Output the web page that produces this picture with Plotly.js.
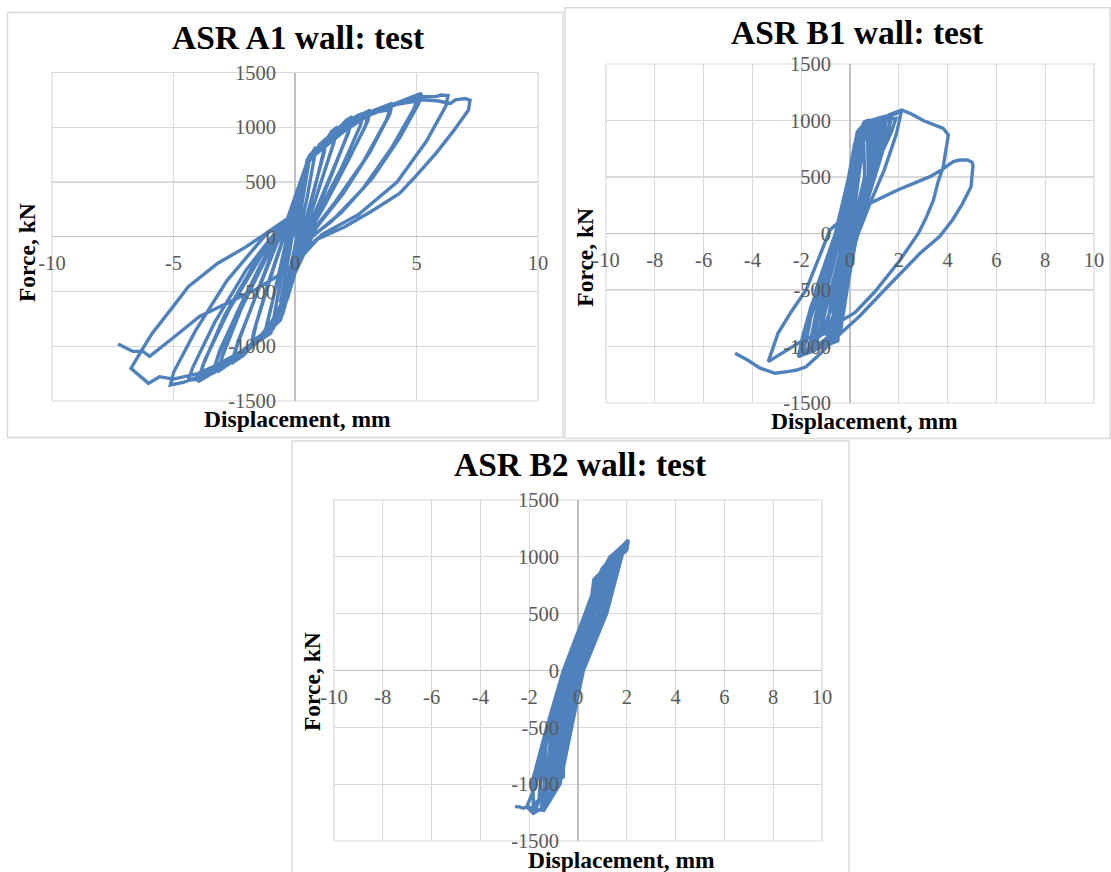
<!DOCTYPE html>
<html>
<head>
<meta charset="utf-8">
<script src="https://cdn.plot.ly/plotly-3.0.1.min.js"></script>
<style>html,body{margin:0;padding:0;background:#fff;}#chart{width:1111px;height:872px;}</style>
</head>
<body>
<div id="chart"></div>
<script>
// ---------- DATA ----------
const panelTitles = ['ASR A1 wall: test', 'ASR B1 wall: test', 'ASR B2 wall: test'];
const xAxisTitle = 'Displacement, mm';
const yAxisTitle = 'Force, kN';

const xTicksA1 = [-10, -5, 0, 5, 10];
const xTickTextA1 = ['-10', '-5', '0', '5', '10'];
const xTicksB = [-10, -8, -6, -4, -2, 0, 2, 4, 6, 8, 10];
const xTickTextB = ['-10', '-8', '-6', '-4', '-2', '0', '2', '4', '6', '8', '10'];
const yTicks = [-1500, -1000, -500, 0, 500, 1000, 1500];
const yTickText = ['-1500', '-1000', '-500', '0', '500', '1000', '1500'];

// [displacement mm, force kN]
const a1Curve = [
  [0,0],
  [0.2,300],[0.4,560],[0.55,700],[0.5,620],[0.3,300],[0.1,20],[-0.2,-300],[-0.45,-540],[-0.6,-600],[-0.5,-480],[-0.3,-200],[-0.05,80],[0.15,220],
  [0.4,580],[0.5,690],[0.7,760],[0.85,820],[0.8,730],[0.5,360],[0.2,50],[-0.1,-260],[-0.5,-620],[-0.75,-720],[-0.9,-780],[-0.8,-650],[-0.5,-300],[-0.15,50],[0.1,210],
  [0.45,640],[0.6,740],[0.8,790],[0.82,760],[1.0,840],[1.3,900],[1.2,800],[0.8,430],[0.35,60],[0,-250],[-0.45,-640],[-0.8,-760],[-1.0,-820],[-1.24,-883],[-1.1,-760],[-0.7,-360],[-0.3,20],[0.1,200],
  [0.45,650],[0.9,780],[1.25,860],[1.2,770],[0.7,380],[0.3,40],[-0.1,-320],[-0.5,-680],[-0.9,-780],[-1.2,-840],[-1.05,-700],[-0.5,-200],[0,150],
  [0.4,600],[0.55,720],[0.9,810],[1.3,880],[1.5,960],[1.75,1005],[1.65,900],[1.1,520],[0.5,100],[0,-300],[-0.5,-700],[-1.0,-820],[-1.4,-920],[-1.8,-1000],[-1.7,-870],[-1.1,-420],[-0.5,-20],[0.05,190],
  [0.5,700],[1.0,830],[1.4,920],[1.7,960],[1.6,860],[0.9,380],[0.4,30],[-0.1,-350],[-0.6,-740],[-1.2,-870],[-1.75,-950],[-1.6,-800],[-0.9,-300],[-0.3,100],[0.1,220],
  [0.5,690],[0.9,800],[1.4,900],[1.8,990],[2.1,1060],[2.35,1096],[2.25,990],[1.5,560],[0.7,130],[0.1,-250],[-0.4,-620],[-0.9,-800],[-1.6,-950],[-2.1,-1080],[-2.6,-1157],[-2.45,-1030],[-1.7,-600],[-0.9,-120],[-0.2,150],[0.15,230],
  [0.55,720],[1.2,860],[1.8,970],[2.3,1050],[2.2,950],[1.4,520],[0.6,100],[0,-320],[-0.6,-760],[-1.4,-930],[-2.0,-1040],[-2.5,-1100],[-2.35,-960],[-1.5,-480],[-0.6,20],[0.1,210],
  [0.5,700],[1.0,830],[1.7,960],[2.3,1070],[2.6,1110],[2.8,1126],[2.7,1020],[1.9,620],[0.9,200],[0.3,-60],[-0.3,-560],[-1.0,-850],[-1.8,-1010],[-2.5,-1130],[-3.19,-1233],[-3.0,-1100],[-2.2,-650],[-1.2,-200],[-0.2,180],
  [0.55,720],[1.2,850],[2.0,1010],[2.6,1100],[2.9,1130],[3.1,1157],[3.0,1060],[2.2,700],[1.2,280],[0.4,-30],[-0.2,-480],[-0.9,-840],[-1.8,-1000],[-2.8,-1170],[-3.4,-1250],[-3.2,-1120],[-2.4,-700],[-1.4,-250],[-0.3,170],
  [0.5,680],[1.4,870],[2.3,1040],[3.0,1110],[2.9,1010],[2.0,620],[1.0,220],[0.2,-80],[-0.4,-600],[-1.3,-900],[-2.3,-1060],[-3.3,-1180],[-3.1,-1040],[-2.1,-560],[-1.0,-100],[0,200],
  [0.6,730],[1.5,900],[2.4,1060],[3.1,1140],[3.6,1180],[4.0,1218],[3.9,1120],[3.1,780],[2.0,400],[0.9,90],[0.2,-150],[-0.5,-650],[-1.4,-930],[-2.4,-1100],[-3.2,-1220],[-4.0,-1324],[-3.8,-1180],[-2.9,-720],[-1.7,-260],[-0.4,140],[0.15,220],
  [0.55,700],[1.6,900],[2.6,1070],[3.4,1140],[3.9,1160],[3.75,1060],[2.8,680],[1.6,300],[0.6,20],[-0.2,-420],[-1.1,-880],[-2.2,-1060],[-3.2,-1190],[-3.9,-1260],[-3.7,-1120],[-2.7,-660],[-1.4,-180],[-0.1,200],
  [0.6,720],[1.7,930],[2.8,1100],[3.6,1170],[4.3,1230],[4.8,1270],[5.2,1309],[5.1,1220],[4.3,900],[3.2,540],[1.9,220],[0.7,0],[-0.1,-380],[-1.0,-880],[-2.0,-1030],[-3.0,-1200],[-3.9,-1300],[-4.39,-1309],[-4.2,-1190],[-3.3,-780],[-2.0,-300],[-0.6,100],[0.1,210],
  [0.6,710],[1.9,950],[3.0,1120],[4.0,1210],[4.7,1250],[5.05,1270],[4.9,1170],[4.0,820],[2.8,440],[1.5,140],[0.5,-30],[-0.3,-500],[-1.3,-920],[-2.5,-1100],[-3.6,-1250],[-4.6,-1330],[-5.13,-1354],[-5.0,-1240],[-4.1,-860],[-2.8,-400],[-1.2,20],[0,200],
  [0.55,700],[2.0,960],[3.3,1150],[4.3,1230],[5.2,1280],[5.8,1280],[6.0,1294],[6.3,1290],[6.2,1190],[5.4,870],[4.2,500],[2.6,200],[1.1,20],[0.2,-200],[-0.5,-640],[-1.6,-960],[-2.8,-1130],[-4.0,-1250],[-5.0,-1300],[-5.58,-1278],[-6.03,-1339],[-6.75,-1202],[-6.26,-1020],[-5.88,-883],[-5.13,-670],[-4.39,-457],[-3.19,-244],[-2.0,-90],[-1.09,46],[0,214],
  [0.3,320],[0.6,720],[1.8,940],[3.0,1110],[4.2,1210],[5.3,1250],[5.9,1240],[6.4,1218],[6.6,1250],[7.0,1262],[7.2,1248],[7.14,1157],[6.5,960],[5.8,761],[5.0,560],[4.45,426],[4.3,396],[3.2,240],[2.05,91],[0.85,-30],[-0.3,-300],[-1.6,-480],[-2.9,-620],[-3.93,-728],[-5.0,-920],[-5.98,-1093],[-6.26,-1047],[-6.67,-1047],[-7.28,-980]
];

const b1Curve = [
  [0,0],
  [0.1,250],[0.25,450],[0.35,520],[0.3,400],[0.05,50],[-0.25,-300],[-0.45,-480],[-0.4,-380],[-0.2,-100],[0,150],
  [0.15,450],[0.35,700],[0.5,780],[0.45,650],[0.2,250],[-0.1,-200],[-0.5,-600],[-0.8,-700],[-0.7,-580],[-0.35,-200],[-0.1,150],
  [0.3,500],[0.5,850],[0.6,975],[0.55,900],[0.6,500],[0.05,0],[-0.5,-500],[-1.0,-800],[-1.2,-870],
  [-1.05,-720],[-0.8,-500],[-0.2,0],[0.2,500],[0.5,870],[0.7,950],[0.72,900],[0.75,500],[0.0,0],[-0.4,-500],[-0.8,-860],[-1.0,-900],
  [-0.9,-750],[-0.7,-500],[-0.25,0],[0.1,500],[0.4,850],[0.75,900],[0.85,940],[0.82,860],[0.85,500],[0.1,0],[-0.35,-500],[-0.9,-860],[-1.6,-960],
  [-1.45,-830],[-1.1,-500],[-0.4,0],[0.05,500],[0.35,860],[0.8,950],[1.0,970],[0.95,900],[0.9,500],[0.15,0],[-0.3,-500],[-0.8,-900],[-1.4,-1000],
  [-1.25,-860],[-0.95,-500],[-0.35,0],[0.0,400],[0.1,550],[0.5,900],[1.0,960],[1.23,990],[1.15,900],[0.95,500],[0.2,0],[-0.25,-500],[-0.7,-900],[-1.3,-980],[-2.0,-1050],
  [-1.85,-900],[-1.3,-500],[-0.45,0],[-0.05,450],[0.25,800],[0.6,960],[0.9,980],[1.1,1000],[1.05,930],[0.92,600],[0.6,400],[0.1,0],[-0.3,-500],[-0.6,-940],[-0.5,-850],[-0.55,-940],[-1.0,-990],[-1.7,-1020],
  [-1.55,-880],[-1.2,-500],[-0.5,0],[-0.1,400],[0.2,700],[0.55,975],[0.9,990],[1.4,1020],[1.3,920],[1.0,550],[0.41,149],[0.07,-117],[-0.27,-559],[-0.68,-942],[-1.5,-1040],[-2.12,-1090],
  [-1.9,-930],[-1.64,-706],[-1.2,-470],[-0.82,-264],[-0.27,149],[-0.14,385],[0.14,680],[0.55,975],[1.2,1000],[1.64,1004],[1.55,920],[1.23,680],[0.9,450],[0.3,0],[-0.15,-500],[-0.5,-900],[-1.2,-1000],[-1.9,-1040],
  [-1.7,-850],[-1.4,-500],[-0.6,0],[-0.05,500],[0.3,900],[0.7,1000],[1.1,1010],[1.5,1040],[1.45,970],[1.1,600],[0.6,300],[0.15,0],[-0.2,-500],[-0.45,-800],[-0.5,-950],[-1.3,-1020],[-2.05,-1070],
  [-1.85,-880],[-1.5,-600],[-1.0,-300],[-0.4,100],[-0.1,450],[0.2,800],[0.6,990],[1.3,1010],[1.88,1018],[1.7,900],[1.23,680],[0.7,300],[0.25,0],[-0.1,-450],[-0.4,-850],[-0.9,-960],[-1.5,-990],
  [-1.35,-800],[-1.0,-450],[-0.35,50],[0.05,500],[0.35,900],[0.8,1000],[1.3,1020],[1.7,1030],[1.6,930],[1.3,700],[0.8,350],[0.3,0],[-0.05,-400],[-0.4,-880],[-1.2,-1000],[-2.1,-1080],
  [-1.95,-920],[-1.6,-650],[-1.1,-350],[-0.5,50],[-0.1,450],[0.3,850],[0.7,990],[1.3,1030],[1.9,1060],[2.12,1093],[1.9,880],[1.4,560],[0.82,267],[0.3,-20],[-0.2,-450],[-0.6,-900],[-1.3,-980],[-2.0,-1060],
  [-1.8,-880],[-1.2,-450],[-0.5,50],[0,450],[0.5,800],[1.0,960],[1.6,1050],[2.12,1093],
  [2.5,1060],[3.0,1000],[3.5,960],[3.82,931],[4.03,872],[3.9,700],[3.82,591],[3.6,450],[3.42,296],[3.1,130],[2.8,0],[2.0,-250],[1.0,-520],[0.2,-700],[-0.6,-800],[-1.2,-880],[-1.91,-942],[-2.6,-1030],[-3.35,-1134],
  [-2.95,-883],[-2.4,-690],[-1.8,-500],[-1.3,-230],[-0.82,31],[-0.37,119],[0.2,200],[0.82,267],[2.0,390],[3.28,503],[3.8,570],[4.23,636],[4.5,650],[4.8,650],[5.0,630],[5.04,600],[4.96,414],[4.6,260],[4.2,120],[3.67,-28],[2.87,-175],[1.5,-480],[0.4,-730],[-0.68,-942],[-1.2,-1060],[-1.8,-1179],[-2.18,-1208],[-2.5,-1220],[-3.07,-1237],[-3.7,-1190],[-4.2,-1120],[-4.71,-1060]
];

const b2Curve = [
  [0,0],
  [0.15,200],[0.3,380],[0.4,450],[0.3,300],[0.05,0],[-0.2,-200],[-0.4,-350],
  [-0.3,-200],[-0.1,150],[0.4,500],[0.6,620],[0.5,450],[0.05,0],[-0.35,-400],[-0.6,-550],
  [-0.5,-350],[-0.3,0],[0.4,500],[0.8,750],[0.75,650],[0.6,450],[0.1,0],[-0.4,-500],[-0.85,-700],
  [-0.75,-500],[-0.2,0],[0.55,500],[0.95,820],[0.9,720],[0.8,500],[0.0,0],[-0.5,-500],[-1.0,-850],
  [-0.9,-500],[-0.4,0],[0.4,500],[0.8,750],[1.1,880],[1.05,800],[0.95,500],[0.14,0],[-0.36,-500],[-0.9,-900],[-1.2,-950],
  [-1.08,-500],[-0.44,0],[0.47,500],[0.65,800],[1.0,880],[1.2,920],[1.15,850],[0.99,500],[0.06,0],[-0.46,-500],[-0.8,-900],[-0.9,-980],
  [-0.77,-500],[-0.19,0],[0.6,500],[1.0,800],[1.35,980],[1.3,900],[1.17,500],[0.22,0],[-0.26,-500],[-0.6,-850],[-0.6,-934],[-1.0,-1000],[-1.4,-1050],
  [-1.28,-500],[-0.6,0],[0.29,500],[0.6,650],[0.6,720],[1.0,900],[1.45,1000],[1.4,900],[0.91,500],[-0.03,0],[-0.57,-500],[-0.9,-900],[-1.1,-1080],
  [-0.97,-500],[-0.35,0],[0.55,500],[1.1,850],[1.55,1020],[1.5,940],[0.82,500],[-0.11,0],[-0.67,-500],[-1.1,-950],[-1.6,-1130],
  [-1.5,-900],[-1.18,-500],[-0.52,0],[0.38,500],[0.9,800],[1.36,1000],[1.65,1050],[1.6,980],[1.08,500],[0.14,0],[-0.36,-500],[-0.86,-1000],[-1.3,-1150],
  [-0.87,-500],[-0.27,0],[0.64,500],[1.2,850],[1.5,1000],[1.75,1070],[1.69,1000],[0.99,500],[0.06,0],[-0.46,-500],[-0.97,-1000],[-1.8,-1180],
  [-1.9,-1000],[-1.28,-500],[-0.6,0],[0.29,500],[0.8,800],[1.31,1000],[1.85,1090],[1.77,1000],[1.12,500],[0.18,0],[-0.31,-500],[-0.8,-1000],[-1.5,-1200],
  [-1.3,-1000],[-1.08,-500],[-0.44,0],[0.47,500],[1.0,800],[1.41,1000],[1.95,1110],[1.85,1040],[1.4,750],[0.86,500],[-0.07,0],[-0.62,-500],[-1.0,-900],[-1.83,-1256],
  [-1.84,-1000],[-1.23,-500],[-0.56,0],[0.33,500],[0.6,650],[1.33,1000],[2.0,1130],[1.79,1000],[1.17,500],[0.22,0],[-0.26,-500],[-0.74,-1000],[-1.4,-1230],[-2.1,-1200],
  [-1.72,-1000],[-1.13,-500],[-0.48,0],[0.42,500],[1.0,850],[1.38,1000],[2.06,1148],[2.0,1060],[1.72,1000],[1.03,500],[0.1,0],[-0.41,-500],[-0.92,-1000],[-1.4,-1200],[-1.83,-1256],[-2.1,-1200],[-2.24,-1212],[-2.4,-1200],[-2.58,-1198]
];

// ---------- LAYOUT ----------
const W = 1111, H = 872;
const fx = v => v / W;
const fy = v => 1 - v / H;

const SERIF = '"Liberation Serif", "Times New Roman", serif';
const LINE_COLOR = '#4f81bd';
const GRID = '#d9d9d9';
const AXIS = '#bfbfbf';
const TICK_FONT = {family: SERIF, size: 20.5, color: '#595959'};

const panels = [
  {curve: a1Curve, xt: xTicksA1, xtt: xTickTextA1, plot: [52, 538, 72.5, 401], box: [7.5, 563, 12.5, 437.5],
   title: [298, 37], xtitle: [297.3, 419], ytitle: [27, 253]},
  {curve: b1Curve, xt: xTicksB, xtt: xTickTextB, plot: [606, 1094, 64, 403], box: [565, 1110, 7.7, 438.5],
   title: [857.6, 33], xtitle: [864.8, 421.5], ytitle: [585, 257.7]},
  {curve: b2Curve, xt: xTicksB, xtt: xTickTextB, plot: [334, 822, 500, 841], box: [292, 849, 441, 880],
   title: [580.6, 464.5], xtitle: [621.5, 859.5], ytitle: [312, 682]}
];

const data = [];
const layout = {
  width: W, height: H,
  margin: {l: 0, r: 0, t: 0, b: 0, pad: 0},
  paper_bgcolor: '#ffffff',
  plot_bgcolor: 'rgba(0,0,0,0)',
  showlegend: false,
  shapes: [],
  annotations: []
};

panels.forEach((p, i) => {
  const sfx = i === 0 ? '' : String(i + 1);
  const xdom = [fx(p.plot[0]), fx(p.plot[1])];
  const ydom = [fy(p.plot[3]), fy(p.plot[2])];
  data.push({
    type: 'scatter', mode: 'lines',
    x: p.curve.map(q => q[0]), y: p.curve.map(q => q[1]),
    xaxis: 'x' + sfx, yaxis: 'y' + sfx,
    line: {color: LINE_COLOR, width: 3.4, shape: 'linear'},
    hoverinfo: 'skip'
  });
  layout['xaxis' + sfx] = {
    domain: xdom, range: [-10, 10], anchor: 'free', position: (ydom[0] + ydom[1]) / 2,
    tickmode: 'array', tickvals: p.xt, ticktext: p.xtt, tickfont: TICK_FONT,
    showgrid: true, gridcolor: GRID, gridwidth: 1.2,
    zeroline: true, zerolinecolor: AXIS, zerolinewidth: 1.4,
    showline: false, ticks: '', ticklabelstandoff: 12, fixedrange: true
  };
  layout['yaxis' + sfx] = {
    domain: ydom, range: [-1500, 1500], anchor: 'free', position: (xdom[0] + xdom[1]) / 2,
    tickmode: 'array', tickvals: yTicks, ticktext: yTickText, tickfont: TICK_FONT,
    showgrid: true, gridcolor: GRID, gridwidth: 1.2,
    zeroline: true, zerolinecolor: AXIS, zerolinewidth: 1.4,
    showline: false, ticks: '', ticklabelstandoff: 19, fixedrange: true
  };
  layout.shapes.push({type: 'rect', xref: 'x' + sfx + ' domain', yref: 'y' + sfx + ' domain',
    x0: 0, x1: 1, y0: 0, y1: 1, line: {color: GRID, width: 1.2}, layer: 'below'});
  layout.shapes.push({type: 'rect', xref: 'paper', yref: 'paper',
    x0: fx(p.box[0]), x1: fx(p.box[1]), y0: fy(p.box[3]), y1: fy(p.box[2]),
    line: {color: '#d9d9d9', width: 1.4}, layer: 'below'});
  layout.annotations.push({xref: 'paper', yref: 'paper', x: fx(p.title[0]), y: fy(p.title[1]),
    xanchor: 'center', yanchor: 'middle', showarrow: false,
    text: '<b>' + panelTitles[i] + '</b>', font: {family: SERIF, size: 33.5, color: '#000000'}});
  layout.annotations.push({xref: 'paper', yref: 'paper', x: fx(p.xtitle[0]), y: fy(p.xtitle[1]),
    xanchor: 'center', yanchor: 'middle', showarrow: false,
    text: '<b>' + xAxisTitle + '</b>', font: {family: SERIF, size: 23.5, color: '#000000'}});
  layout.annotations.push({xref: 'paper', yref: 'paper', x: fx(p.ytitle[0]), y: fy(p.ytitle[1]),
    xanchor: 'center', yanchor: 'middle', showarrow: false, textangle: -90,
    text: '<b>' + yAxisTitle + '</b>', font: {family: SERIF, size: 23.5, color: '#000000'}});
});

Plotly.newPlot('chart', data, layout, {displayModeBar: false, staticPlot: true});
</script>
</body>
</html>
